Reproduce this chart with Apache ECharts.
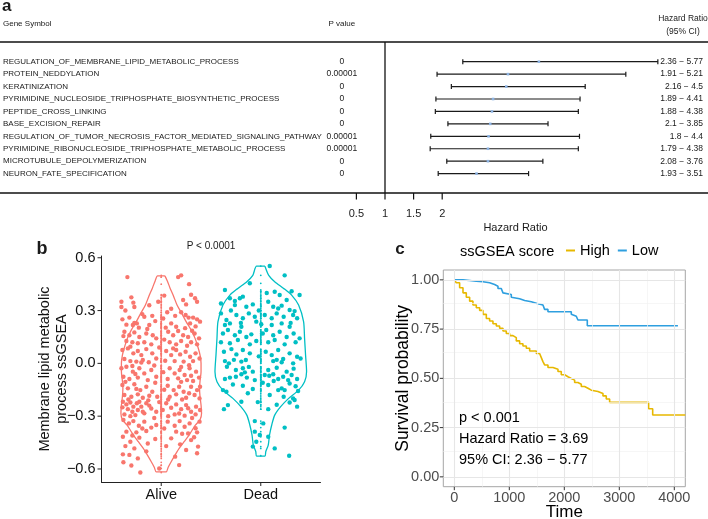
<!DOCTYPE html>
<html><head><meta charset="utf-8">
<script src="https://cdn.jsdelivr.net/npm/echarts@6/dist/echarts.min.js"></script>
<style>html,body{margin:0;padding:0;background:#fff}#c{width:708px;height:519px}</style>
</head><body><div id="c"></div>
<script>
const FONT = '"Liberation Sans", Arial, Helvetica, sans-serif';

// ---------- Panel a: forest plot ----------
const genes = [
  'REGULATION_OF_MEMBRANE_LIPID_METABOLIC_PROCESS',
  'PROTEIN_NEDDYLATION',
  'KERATINIZATION',
  'PYRIMIDINE_NUCLEOSIDE_TRIPHOSPHATE_BIOSYNTHETIC_PROCESS',
  'PEPTIDE_CROSS_LINKING',
  'BASE_EXCISION_REPAIR',
  'REGULATION_OF_TUMOR_NECROSIS_FACTOR_MEDIATED_SIGNALING_PATHWAY',
  'PYRIMIDINE_RIBONUCLEOSIDE_TRIPHOSPHATE_METABOLIC_PROCESS',
  'MICROTUBULE_DEPOLYMERIZATION',
  'NEURON_FATE_SPECIFICATION'
];
const pValues = ['0','0.00001','0','0','0','0','0.00001','0.00001','0','0'];
const hr     = [3.69, 3.15, 3.12, 2.89, 2.87, 2.84, 2.81, 2.80, 2.80, 2.60];
const ciLow  = [2.36, 1.91, 2.16, 1.89, 1.88, 2.1, 1.8, 1.79, 2.08, 1.93];
const ciHigh = [5.77, 5.21, 4.5, 4.41, 4.38, 3.85, 4.4, 4.38, 3.76, 3.51];
const forestTicks = [0.5, 1, 1.5, 2];
const ciLabels = ciLow.map((lo, i) => lo + ' \u2212 ' + ciHigh[i]);

// ---------- Panel b: violin ----------
const groups = ['Alive', 'Dead'];
const groupTicks = [1, 2];
const violinTicks = [-0.6, -0.3, 0, 0.3, 0.6];
// [value, half width] from top to bottom
const aliveShape = [[0.497,0.037],[0.47,0.06],[0.426,0.09],[0.38,0.125],[0.33,0.16],[0.28,0.21],[0.237,0.25],[0.19,0.30],[0.142,0.34],[0.09,0.37],[0.047,0.39],[0,0.40],[-0.047,0.40],[-0.1,0.39],[-0.142,0.385],[-0.19,0.39],[-0.237,0.40],[-0.284,0.405],[-0.32,0.39],[-0.35,0.345],[-0.38,0.31],[-0.407,0.28],[-0.445,0.23],[-0.483,0.18],[-0.52,0.14],[-0.559,0.10],[-0.59,0.07],[-0.616,0.05]];
const deadShape = [[0.552,0.042],[0.50,0.08],[0.464,0.14],[0.426,0.23],[0.388,0.31],[0.331,0.38],[0.237,0.43],[0.142,0.44],[0.047,0.45],[-0.047,0.46],[-0.104,0.44],[-0.152,0.38],[-0.199,0.28],[-0.246,0.20],[-0.294,0.14],[-0.35,0.11],[-0.407,0.088],[-0.464,0.075],[-0.502,0.05],[-0.527,0.042]];
// [jitter offset, value]
const alivePoints = [[-0.34,0.49],[0.17,0.49],[0.20,0.50],[0.28,0.45],
[0.30,0.39],[-0.30,0.375],[-0.40,0.35],[-0.28,0.345],[-0.40,0.32],[0.34,0.37],[0.36,0.35],[0.25,0.335],[-0.03,0.35],[0.03,0.385],[-0.27,0.32],
[-0.39,0.25],[-0.32,0.26],[-0.19,0.28],[-0.17,0.265],[-0.09,0.27],[0.06,0.29],[0.14,0.27],[0.20,0.29],[0.245,0.275],[0.275,0.26],[0.32,0.26],[0.36,0.25],[0.39,0.237],[0.29,0.227],[0.345,0.21],[-0.35,0.22],[-0.285,0.218],[-0.245,0.227],[-0.12,0.218],[0.10,0.227],[0.15,0.208],[-0.225,0.203],[0.045,0.203],
[-0.37,0.18],[-0.32,0.16],[-0.27,0.176],[-0.22,0.15],[-0.15,0.17],[-0.085,0.16],[0.07,0.18],[0.12,0.16],[0.17,0.184],[0.22,0.16],[0.27,0.15],[0.335,0.17],[0.38,0.142],[-0.35,0.127],[-0.29,0.12],[-0.235,0.114],[-0.17,0.12],[-0.10,0.108],[0.085,0.12],[0.15,0.108],[0.20,0.127],[0.30,0.12],[0.36,0.108],[-0.05,0.142],
[-0.39,0.076],[-0.335,0.085],[-0.28,0.057],[-0.235,0.07],[-0.2,0.047],[-0.15,0.081],[-0.09,0.057],[-0.05,0.028],[0.05,0.07],[0.1,0.047],[0.15,0.076],[0.19,0.051],[0.245,0.066],[0.29,0.038],[0.345,0.057],[0.385,0.028],[-0.37,0.025],[-0.31,0.013],[-0.25,0.01],[-0.185,0.019],[-0.125,0.006],[0.135,0.013],[0.225,0.01],[0.32,0.013],
[-0.40,-0.028],[-0.35,-0.019],[-0.285,-0.047],[-0.22,-0.028],[-0.17,-0.057],[-0.10,-0.038],[0.085,-0.028],[0.135,-0.057],[0.185,-0.038],[0.235,-0.066],[0.285,-0.028],[0.35,-0.047],[-0.38,-0.076],[-0.32,-0.089],[-0.235,-0.081],[-0.135,-0.095],[-0.05,-0.076],[0.065,-0.089],[0.17,-0.085],[0.26,-0.095],[0.38,-0.081],[0.32,-0.1],
[-0.39,-0.123],[-0.335,-0.142],[-0.27,-0.119],[-0.21,-0.152],[-0.15,-0.133],[-0.09,-0.161],[0.065,-0.127],[0.125,-0.152],[0.18,-0.133],[0.225,-0.161],[0.30,-0.133],[0.36,-0.152],[0.39,-0.133],[-0.37,-0.18],[-0.30,-0.19],[-0.235,-0.176],[-0.185,-0.195],[-0.12,-0.184],[0.085,-0.19],[0.15,-0.176],[0.25,-0.195],[0.335,-0.18],[0.385,-0.199],
[-0.385,-0.218],[-0.35,-0.233],[-0.31,-0.222],[-0.28,-0.246],[-0.245,-0.227],[-0.335,-0.26],[-0.29,-0.275],[-0.235,-0.265],[-0.2,-0.246],[-0.15,-0.227],[-0.10,-0.256],[-0.05,-0.275],[0.05,-0.227],[0.10,-0.252],[0.15,-0.233],[0.2,-0.26],[0.25,-0.237],[0.30,-0.275],[0.35,-0.246],[0.39,-0.265],[-0.37,-0.29],[-0.26,-0.294],[-0.17,-0.284],[0.015,-0.265],[0.135,-0.29],[0.235,-0.297],[0.345,-0.29],[-0.185,-0.275],[-0.22,-0.218],
[-0.38,-0.322],[-0.325,-0.341],[-0.28,-0.328],[-0.225,-0.354],[-0.17,-0.331],[-0.10,-0.365],[0.065,-0.331],[0.135,-0.354],[0.185,-0.328],[0.235,-0.36],[0.285,-0.341],[0.345,-0.369],[0.385,-0.331],[-0.35,-0.388],[-0.25,-0.392],[-0.15,-0.384],[0.15,-0.388],[0.27,-0.398],[0.36,-0.392],[-0.05,-0.35],
[-0.385,-0.417],[-0.31,-0.445],[-0.22,-0.422],[-0.135,-0.455],[0.1,-0.426],[0.19,-0.46],[0.30,-0.436],[0.37,-0.473],[-0.27,-0.483],[0.25,-0.492],
[-0.385,-0.517],[-0.32,-0.52],[-0.235,-0.54],[0.36,-0.511],[-0.38,-0.562],[0.18,-0.578],[-0.21,-0.62],[-0.02,-0.597],
[-0.36,0.30],[0.10,0.31],[-0.12,0.33],[0.22,0.36],[-0.06,0.24],[0.02,0.255],[-0.27,0.23],[0.24,0.20],[-0.14,0.195],[0.31,0.185],[-0.38,0.155],[0.03,0.135],[0.26,0.10],[-0.31,0.095],[-0.02,0.09],[0.12,0.085],[-0.20,0.005],[0.04,0.015],[0.28,-0.01],[-0.29,-0.015],[-0.07,-0.012],[0.20,-0.02],[-0.26,-0.06],[0.02,-0.05],[0.30,-0.07],[-0.06,-0.11],[0.20,-0.105],[-0.36,-0.105],[0.03,-0.15],[-0.25,-0.145],[0.28,-0.17],[-0.04,-0.19],[0.21,-0.205],[-0.33,-0.205],[-0.13,-0.21],[0.07,-0.205],[-0.12,-0.24],[0.27,-0.255],[-0.39,-0.25],[-0.02,-0.22],[0.18,-0.285],[-0.31,-0.30],[0.07,-0.30],[-0.07,-0.31],[0.31,-0.31],[-0.19,-0.37],[0.03,-0.37],[0.21,-0.40],[-0.29,-0.41],[-0.06,-0.43],[0.33,-0.42],[-0.36,-0.47],[0.05,-0.47],[-0.15,-0.50],[0.14,-0.53],[-0.30,-0.58]];
const deadPoints = [[0.09,0.553],[0.24,0.50],[-0.36,0.417],[0.06,0.40],[0.14,0.407],[0.19,0.388],[0.31,0.41],[0.39,0.388],[-0.11,0.455],
[-0.40,0.34],[-0.31,0.37],[-0.26,0.331],[-0.21,0.37],[-0.18,0.379],[-0.145,0.322],[-0.08,0.335],[0.075,0.35],[0.125,0.322],[0.175,0.312],[0.21,0.328],[0.29,0.303],[0.34,0.297],[-0.26,0.354],
[-0.40,0.284],[-0.345,0.246],[-0.245,0.275],[-0.18,0.256],[-0.12,0.284],[-0.06,0.265],[0.04,0.275],[0.11,0.256],[0.16,0.284],[0.23,0.265],[0.325,0.275],[0.365,0.256],[-0.045,0.237],[-0.36,0.218],[-0.31,0.227],[-0.195,0.208],[0.005,0.222],[0.11,0.218],[0.21,0.227],[0.29,0.208],
[-0.38,0.17],[-0.33,0.19],[-0.26,0.16],[-0.21,0.18],[-0.145,0.15],[-0.095,0.165],[0.055,0.19],[0.125,0.16],[0.19,0.18],[0.26,0.15],[0.33,0.17],[-0.40,0.12],[-0.31,0.114],[-0.23,0.133],[-0.11,0.108],[-0.045,0.127],[0.075,0.12],[0.14,0.133],[0.24,0.108],[0.35,0.12],[0.39,0.142],
[-0.37,0.066],[-0.295,0.081],[-0.245,0.051],[-0.18,0.076],[-0.11,0.057],[0.05,0.066],[0.11,0.047],[0.175,0.076],[0.225,0.025],[0.29,0.057],[0.365,0.038],[0.40,0.028],[-0.36,0.013],[-0.32,0.0],[-0.195,0.01],[-0.15,0.019],[0.125,0.013],[0.21,0.006],[0.325,0.0],
[-0.34,-0.019],[-0.25,-0.038],[-0.18,-0.028],[-0.08,-0.047],[0.075,-0.038],[0.16,-0.025],[0.26,-0.047],[-0.36,-0.089],[-0.31,-0.081],[-0.25,-0.076],[-0.195,-0.062],[-0.16,-0.051],[-0.14,-0.081],[-0.06,-0.095],[0.04,-0.066],[0.085,-0.07],[0.125,-0.062],[0.175,-0.089],[0.225,-0.076],[0.275,-0.095],[0.31,-0.066],[0.365,-0.089],
[-0.38,-0.152],[-0.345,-0.161],[-0.18,-0.127],[-0.08,-0.146],[0.075,-0.123],[0.175,-0.152],[0.21,-0.142],[0.24,-0.152],[0.29,-0.114],[0.375,-0.157],[0.09,-0.18],[0.325,-0.199],
[-0.33,-0.237],[-0.37,-0.26],[0.29,-0.222],[0.34,-0.208],[0.365,-0.246],[0.075,-0.26],[-0.195,-0.218],
[-0.06,-0.328],[0.24,-0.365],[-0.06,-0.388],[0.025,-0.341],
[-0.01,-0.407],[0.075,-0.417],[-0.08,-0.473],[0.14,-0.483],[-0.045,-0.445],[0.285,-0.525],
[-0.02,0.30],[0.26,0.36],[-0.30,0.30],[0.02,0.17],[-0.20,0.23],[0.30,0.23],[-0.02,0.04],[0.16,0.02],[-0.27,0.02],[0.33,-0.03],[-0.12,-0.02],[0.02,-0.11],[-0.28,-0.12],[0.13,-0.10],[0.35,-0.13],[-0.13,-0.17],[0.23,-0.19],[0.16,-0.235],[-0.03,-0.22]];

// ---------- Panel c: Kaplan-Meier ----------
const highTime = [0, 36, 97, 158, 218, 279, 339, 400, 461, 521, 582, 642, 703, 764, 824, 885, 945, 1006, 1067, 1127, 1188, 1248, 1309, 1370, 1491, 1551, 1582, 1612, 1642, 1703, 1794, 1885, 1945, 2006, 2067, 2127, 2188, 2248, 2309, 2369, 2430, 2491, 2612, 2703, 2763, 2824, 3533, 3607, 4200];
const highSurv = [1, 0.985, 0.960, 0.934, 0.912, 0.892, 0.872, 0.858, 0.845, 0.825, 0.804, 0.791, 0.777, 0.766, 0.754, 0.740, 0.728, 0.717, 0.707, 0.690, 0.676, 0.664, 0.653, 0.639, 0.626, 0.619, 0.605, 0.585, 0.568, 0.555, 0.546, 0.535, 0.518, 0.508, 0.499, 0.491, 0.479, 0.470, 0.459, 0.450, 0.440, 0.433, 0.423, 0.411, 0.395, 0.378, 0.346, 0.314, 0.314];
const lowTime = [0, 158, 279, 400, 521, 642, 733, 794, 854, 885, 915, 1036, 1067, 1188, 1279, 1400, 1521, 1612, 1642, 1703, 2127, 2157, 2218, 2248, 2418, 4066];
const lowSurv = [1, 0.997, 0.993, 0.990, 0.985, 0.976, 0.968, 0.956, 0.946, 0.934, 0.926, 0.912, 0.904, 0.895, 0.889, 0.879, 0.872, 0.862, 0.850, 0.838, 0.825, 0.815, 0.808, 0.796, 0.767, 0.767];
const kmXTicks = [0, 1000, 2000, 3000, 4000];
const kmXMinor = [500, 1500, 2500, 3500];
const kmYTicks = [0, 0.25, 0.5, 0.75, 1];
const kmYMinor = [0.125, 0.375, 0.625, 0.875];
const kmLines = ['p < 0.001', 'Hazard Ratio = 3.69', '95% CI: 2.36 \u2212 5.77'];

// ---------- layout constants ----------
const ROW_MIN = -1.585, ROW_MAX = 10.56;
const COL_GENE = 3, COL_P = 341.8, COL_CI = 703;
const V_XMIN = 0.4, V_XMAX = 2.6, V_YMIN = -0.674, V_YMAX = 0.61;
const K_XMIN = -200, K_XMAX = 4200, K_YMIN = -0.05, K_YMAX = 1.05;

const chart = echarts.init(document.getElementById('c'), null, {renderer: 'canvas'});

function textColumn(xPos, texts, align, size) {
  return {
    type: 'custom', xAxisIndex: 1, yAxisIndex: 0, silent: true, z: 5,
    data: texts.map((t, i) => [xPos, i]),
    encode: {x: 0, y: 1},
    renderItem: (params, api) => {
      const p = api.coord([api.value(0), api.value(1)]);
      return {type: 'text', x: p[0], y: p[1],
        style: {text: texts[params.dataIndex], fill: '#1a1a1a', fontSize: size, fontFamily: FONT, align: align, verticalAlign: 'middle'}};
    }
  };
}

// axis ticks drawn through the axis scale: horizontal axis (dir 'x') or vertical axis (dir 'y')
function tickSeries(xi, yi, values, anchor, dir, len, color, width) {
  return {
    type: 'custom', xAxisIndex: xi, yAxisIndex: yi, silent: true, z: 6, clip: false,
    data: values.map(v => dir === 'x' ? [v, anchor] : [anchor, v]),
    encode: {x: 0, y: 1},
    renderItem: (params, api) => {
      const p = api.coord([api.value(0), api.value(1)]);
      const shape = dir === 'x' ? {x1: p[0], y1: p[1], x2: p[0], y2: p[1] + len} : {x1: p[0], y1: p[1], x2: p[0] - len, y2: p[1]};
      return {type: 'line', shape: shape, style: {stroke: color, lineWidth: width}};
    }
  };
}

function outline(center, prof) {
  const right = prof.map(([y, w]) => [center + w, y]);
  const left = prof.slice().reverse().map(([y, w]) => [center - w, y]);
  return right.concat(left, [right[0]]);
}

function txt(text, x, y, size, opts) {
  opts = opts || {};
  return {type: 'text', x: x, y: y, silent: true, z: 10,
    style: {text: text, fontSize: size, fontFamily: FONT, fontWeight: opts.bold ? 'bold' : 'normal',
      fill: opts.color || '#1a1a1a', align: opts.align || 'left', verticalAlign: 'middle'}};
}

const violinLabelFmt = v => (v < -1e-9 ? '\u2212' : '') + Math.abs(v).toFixed(1);

const option = {
  animation: false,
  backgroundColor: '#ffffff',
  textStyle: {fontFamily: FONT},
  grid: [
    {left: 0, top: 42, width: 708, height: 151, outerBoundsMode: 'none'},
    {left: 356.4, top: 42, width: 343.2, height: 151, outerBoundsMode: 'none'},
    {left: 101.5, top: 256, width: 219, height: 226, outerBoundsMode: 'none'},
    {left: 443.3, top: 270, width: 242, height: 216.7, show: true, borderColor: '#a6a6a6', borderWidth: 1, backgroundColor: 'transparent', outerBoundsMode: 'none'}
  ],
  xAxis: [
    {gridIndex: 0, type: 'value', min: 0, max: 708, position: 'top',
      axisLine: {show: true, onZero: false, lineStyle: {color: '#111', width: 1.5}}, axisTick: {show: false}, axisLabel: {show: false}, splitLine: {show: false}},
    {gridIndex: 0, type: 'value', min: 0, max: 708, position: 'bottom',
      axisLine: {show: true, onZero: false, lineStyle: {color: '#111', width: 1.5}}, axisTick: {show: false}, axisLabel: {show: false}, splitLine: {show: false}},
    {gridIndex: 1, type: 'value', min: 0.5, max: 6.5, position: 'bottom',
      axisLine: {show: false, onZero: false}, axisTick: {show: false},
      axisLabel: {customValues: forestTicks, formatter: v => String(v), fontSize: 11, color: '#222', margin: 15}, splitLine: {show: false}},
    {gridIndex: 2, type: 'value', min: V_XMIN, max: V_XMAX,
      axisLine: {show: true, onZero: false, lineStyle: {color: '#222', width: 1}}, axisTick: {show: false},
      axisLabel: {customValues: groupTicks, formatter: v => groups[Math.round(v) - 1], fontSize: 14.5, color: '#111', margin: 5}, splitLine: {show: false}},
    {gridIndex: 3, type: 'value', min: K_XMIN, max: K_XMAX,
      axisLine: {show: false, onZero: false}, axisTick: {show: false},
      axisLabel: {customValues: kmXTicks, formatter: v => String(v), fontSize: 14.5, color: '#4d4d4d', margin: 4}, splitLine: {show: false},
      name: 'Time', nameLocation: 'middle', nameGap: 17.5, nameMoveOverlap: false, nameTextStyle: {fontSize: 17, color: '#000', fontFamily: FONT}}
  ],
  yAxis: [
    {gridIndex: 0, type: 'value', min: ROW_MIN, max: ROW_MAX, inverse: true, show: false},
    {gridIndex: 1, type: 'value', min: ROW_MIN, max: ROW_MAX, inverse: true, show: false},
    {gridIndex: 2, type: 'value', min: V_YMIN, max: V_YMAX,
      axisLine: {show: true, onZero: false, lineStyle: {color: '#222', width: 1}}, axisTick: {show: false},
      axisLabel: {customValues: violinTicks, formatter: violinLabelFmt, fontSize: 14.5, color: '#111', margin: 6}, splitLine: {show: false},
      name: 'Membrane lipid metabolic\nprocess ssGSEA', nameLocation: 'middle', nameRotate: 90, nameGap: 31, nameMoveOverlap: false,
      nameTextStyle: {fontSize: 14.5, color: '#111', lineHeight: 17, fontFamily: FONT}},
    {gridIndex: 3, type: 'value', min: K_YMIN, max: K_YMAX,
      axisLine: {show: false, onZero: false}, axisTick: {show: false},
      axisLabel: {customValues: kmYTicks, formatter: v => v.toFixed(2), fontSize: 14.5, color: '#4d4d4d', margin: 4}, splitLine: {show: false},
      name: 'Survival probability', nameLocation: 'middle', nameRotate: 90, nameGap: 31, nameMoveOverlap: false,
      nameTextStyle: {fontSize: 17.5, color: '#000', fontFamily: FONT}}
  ],
  legend: {
    data: ['High', 'Low'], left: 566, top: 243, padding: 0, icon: 'rect', itemWidth: 9, itemHeight: 2, itemGap: 8,
    textStyle: {fontSize: 14.5, color: '#000', fontFamily: FONT}, selectedMode: false
  },
  graphic: [
    txt('a', 2, 6, 17, {bold: true}),
    txt('Gene Symbol', 3, 24, 8),
    txt('P value', COL_P, 24, 8, {align: 'center'}),
    txt('Hazard Ratio', 683, 18.5, 8.5, {align: 'center'}),
    txt('(95% CI)', 683, 32, 8.5, {align: 'center'}),
    txt('Hazard Ratio', 515.5, 228.3, 11, {align: 'center'}),
    txt('b', 42, 249, 18, {bold: true, align: 'center'}),
    txt('P < 0.0001', 211, 246.5, 10, {align: 'center'}),
    txt('c', 400, 249, 17, {bold: true, align: 'center'}),
    txt('ssGSEA score', 460, 251.7, 14.5, {color: '#000'}),
    txt(kmLines[0], 459, 418, 14.5, {color: '#000'}),
    txt(kmLines[1], 459, 439, 14.5, {color: '#000'}),
    txt(kmLines[2], 459, 459.5, 14.5, {color: '#000'})
  ],
  series: [
    // table text columns
    textColumn(COL_GENE, genes, 'left', 8),
    textColumn(COL_P, pValues, 'center', 8.5),
    textColumn(COL_CI, ciLabels, 'right', 8.5),
    // axis ticks
    tickSeries(2, 1, forestTicks, ROW_MAX, 'x', 6.5, '#111', 1.2),
    tickSeries(3, 2, groupTicks, V_YMIN, 'x', 4, '#222', 1),
    tickSeries(3, 2, violinTicks, V_XMIN, 'y', 4, '#222', 1),
    tickSeries(4, 3, kmXTicks, K_YMIN, 'x', 3.5, '#333', 1),
    tickSeries(4, 3, kmYTicks, K_XMIN, 'y', 3.5, '#333', 1),
    // reference line at HR = 1
    {type: 'line', xAxisIndex: 2, yAxisIndex: 1, data: [[1, ROW_MIN], [1, ROW_MAX]], symbol: 'none', silent: true,
      lineStyle: {color: '#111', width: 1.3}, z: 3},
    // CI whiskers
    {type: 'custom', xAxisIndex: 2, yAxisIndex: 1, silent: true, z: 4,
      data: ciLow.map((lo, i) => [lo, i, hr[i], ciHigh[i]]),
      encode: {x: [0, 2, 3], y: 1},
      renderItem: (params, api) => {
        const row = api.value(1);
        const a = api.coord([api.value(0), row]), b = api.coord([api.value(3), row]), m = api.coord([api.value(2), row]);
        const cap = 2.5, ls = {stroke: '#1a1a1a', lineWidth: 1.2};
        return {type: 'group', children: [
          {type: 'line', shape: {x1: a[0], y1: a[1], x2: b[0], y2: b[1]}, style: ls},
          {type: 'line', shape: {x1: a[0], y1: a[1] - cap, x2: a[0], y2: a[1] + cap}, style: ls},
          {type: 'line', shape: {x1: b[0], y1: b[1] - cap, x2: b[0], y2: b[1] + cap}, style: ls},
          {type: 'rect', shape: {x: m[0] - 1.3, y: m[1] - 1.3, width: 2.6, height: 2.6}, style: {fill: '#8db3e2'}}
        ]};
      }},
    // violins
    {type: 'line', xAxisIndex: 3, yAxisIndex: 2, data: outline(1, aliveShape), symbol: 'none', smooth: 0.25, silent: true,
      lineStyle: {color: '#F8766D', width: 1.3}, z: 2},
    {type: 'line', xAxisIndex: 3, yAxisIndex: 2, data: outline(2, deadShape), symbol: 'none', smooth: 0.25, silent: true,
      lineStyle: {color: '#00BFC4', width: 1.3}, z: 2},
    {type: 'scatter', xAxisIndex: 3, yAxisIndex: 2, data: alivePoints.map(p => [1 + p[0], p[1]]), symbolSize: 4.4, silent: true,
      itemStyle: {color: '#F8766D', opacity: 1}, z: 3},
    {type: 'scatter', xAxisIndex: 3, yAxisIndex: 2, data: deadPoints.map(p => [2 + p[0], p[1]]), symbolSize: 4.4, silent: true,
      itemStyle: {color: '#00BFC4', opacity: 1}, z: 3},
    {type: 'scatter', xAxisIndex: 3, yAxisIndex: 2, data: alivePoints.map(p => [1, p[1]]), symbolSize: 1.8, silent: true,
      itemStyle: {color: '#F8766D', opacity: 1}, z: 4},
    {type: 'scatter', xAxisIndex: 3, yAxisIndex: 2, data: deadPoints.map(p => [2, p[1]]), symbolSize: 1.8, silent: true,
      itemStyle: {color: '#00BFC4', opacity: 1}, z: 4},
    // KM grid lines
    {type: 'line', xAxisIndex: 4, yAxisIndex: 3, data: [], silent: true, z: 1,
      markLine: {silent: true, symbol: 'none', label: {show: false}, animation: false,
        lineStyle: {color: '#f2f2f2', width: 0.7, type: 'solid'},
        data: kmXMinor.map(v => ({xAxis: v})).concat(kmYMinor.map(v => ({yAxis: v})))}},
    {type: 'line', xAxisIndex: 4, yAxisIndex: 3, data: [], silent: true, z: 1,
      markLine: {silent: true, symbol: 'none', label: {show: false}, animation: false,
        lineStyle: {color: '#e6e6e6', width: 1.1, type: 'solid'},
        data: kmXTicks.map(v => ({xAxis: v})).concat(kmYTicks.map(v => ({yAxis: v})))}},
    // KM curves
    {type: 'line', name: 'High', xAxisIndex: 4, yAxisIndex: 3, data: highTime.map((t, i) => [t, highSurv[i]]),
      step: 'end', symbol: 'none', silent: true, lineStyle: {color: '#E7B800', width: 1.6}, itemStyle: {color: '#E7B800'}, z: 4},
    {type: 'line', name: 'Low', xAxisIndex: 4, yAxisIndex: 3, data: lowTime.map((t, i) => [t, lowSurv[i]]),
      step: 'end', symbol: 'none', silent: true, lineStyle: {color: '#2E9FDF', width: 1.6}, itemStyle: {color: '#2E9FDF'}, z: 4}
  ]
};
chart.setOption(option);
</script>
</body></html>
